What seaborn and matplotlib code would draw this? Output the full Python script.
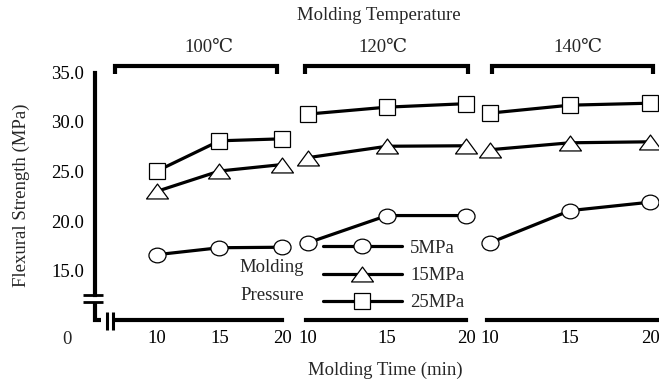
import numpy as np
import pandas as pd
import matplotlib
matplotlib.use("Agg")
import matplotlib.pyplot as plt
from matplotlib.lines import Line2D
from matplotlib.path import Path
import seaborn as sns

# ---------------- data ----------------
times = [10, 15, 20]
temps = ["100℃", "120℃", "140℃"]
pressures = ["5MPa", "15MPa", "25MPa"]
t100_5 = [16.6, 17.3, 17.35]
t100_15 = [23.0, 25.05, 25.7]
t100_25 = [25.05, 28.1, 28.3]
t120_5 = [17.8, 20.55, 20.55]
t120_15 = [26.4, 27.55, 27.6]
t120_25 = [30.8, 31.5, 31.85]
t140_5 = [17.8, 21.05, 21.9]
t140_15 = [27.2, 27.9, 28.0]
t140_25 = [30.9, 31.7, 31.9]
y_ticks = [15, 20, 25, 30, 35]
y_ticklabels = ["15.0", "20.0", "25.0", "30.0", "35.0"]
x_ticks = [10, 15, 20]

panel_values = {
    "100℃": {"5MPa": t100_5, "15MPa": t100_15, "25MPa": t100_25},
    "120℃": {"5MPa": t120_5, "15MPa": t120_15, "25MPa": t120_25},
    "140℃": {"5MPa": t140_5, "15MPa": t140_15, "25MPa": t140_25},
}
rows = []
for temp in temps:
    for p in pressures:
        for t, v in zip(times, panel_values[temp][p]):
            rows.append({"temp": temp, "pressure": p, "time": t, "strength": v})
df = pd.DataFrame(rows)

# ---------------- style ----------------
sns.set_style("white")
plt.rcParams["font.family"] = ["Liberation Serif", "DejaVu Serif"]
FS = 13.5

W, H = 659, 383
fig = plt.figure(figsize=(W / 100, H / 100), dpi=100)


def fx(x):
    return x / W


def fy(y):
    return 1 - y / H


def fline(xs, ys, lw=3.0):
    fig.add_artist(Line2D([fx(x) for x in xs], [fy(y) for y in ys],
                          transform=fig.transFigure, color="black", lw=lw,
                          solid_capstyle="butt", solid_joinstyle="miter"))


circ = Path.unit_circle()
ellipse_marker = Path(circ.vertices * np.array([1.0, 0.86]), circ.codes)
tri_marker = Path([(-1, -0.68), (1, -0.68), (0, 0.68), (-1, -0.68)],
                  [Path.MOVETO, Path.LINETO, Path.LINETO, Path.CLOSEPOLY])
marker_style = {
    "5MPa": dict(marker=ellipse_marker, markersize=12.3),
    "15MPa": dict(marker=tri_marker, markersize=15.8),
    "25MPa": dict(marker="s", markersize=11.5),
}

y_top_px, y_bot_px = 72.5, 320.0
ylim = (10.0, 35.0)

# panels: (left px, right px, px at time 10, px per minute)
panel_geom = [
    (95, 290, 157, 12.5),
    (306, 475, 308, 15.8),
    (487, 659, 490, 16.0),
]

axes = []
for i, (temp, (lpx, rpx, x10, ppu)) in enumerate(zip(temps, panel_geom)):
    ax = fig.add_axes([fx(lpx), fy(y_bot_px), (rpx - lpx) / W, (y_bot_px - y_top_px) / H])
    ax.patch.set_alpha(0)
    sub = df[df["temp"] == temp]
    for p in pressures:
        d = sub[sub["pressure"] == p]
        sns.lineplot(data=d, x="time", y="strength", ax=ax, color="black",
                     linewidth=2.3, errorbar=None, legend=False,
                     markerfacecolor="white", markeredgecolor="black",
                     markeredgewidth=0.9, clip_on=False, **marker_style[p])
    ax.set_xlim(10 - (x10 - lpx) / ppu, 10 + (rpx - x10) / ppu)
    ax.set_ylim(*ylim)
    ax.set_xlabel("")
    ax.set_ylabel("")
    for s in ["top", "right"]:
        ax.spines[s].set_visible(False)
    ax.spines["bottom"].set_linewidth(3)
    ax.spines["bottom"].set_color("black")
    ax.set_xticks(x_ticks)
    ax.set_xticklabels([str(t) for t in x_ticks], fontsize=FS)
    ax.tick_params(axis="x", direction="in", length=6, width=3, pad=7, colors="black")
    ax.tick_params(axis="x", labelcolor="black")
    if i == 0:
        ax.spines["left"].set_linewidth(3)
        ax.spines["left"].set_color("black")
        ax.spines["left"].set_bounds(12.53, 35)
        ax.set_yticks(y_ticks)
        ax.set_yticklabels(y_ticklabels, fontsize=FS)
        ax.tick_params(axis="y", direction="in", length=6, width=3, pad=8, colors="black")
        ax.spines["bottom"].set_bounds(10 - (x10 - 115) / ppu, 20)
    else:
        ax.spines["left"].set_visible(False)
        ax.set_yticks([])
        if i == 1:
            ax.spines["bottom"].set_bounds(ax.get_xlim()[0], 20)
    axes.append(ax)

# axis breaks and corner
fline([95, 95, 101], [301.5, 320, 320], lw=3)
fline([83, 103], [295, 295], lw=2)
fline([83, 103], [302, 302], lw=2)
fline([107, 107], [312, 330], lw=2.2)
fline([113, 113], [312, 330], lw=2.2)

# temperature brackets
for (l, r), temp, cx in zip([(115, 277), (305, 468), (492, 653)], temps, [209, 383, 578]):
    fline([l, l, r, r], [74, 66, 66, 74], lw=3)
    fig.text(fx(cx), fy(47), temp, ha="center", va="center", fontsize=FS)

fig.text(fx(379), fy(16), "Molding Temperature", ha="center", va="center", fontsize=FS)
fig.text(fx(385), fy(370), "Molding Time (min)", ha="center", va="center", fontsize=FS)
fig.text(fx(21), fy(195), "Flexural Strength (MPa)", ha="center", va="center",
         rotation=90, fontsize=FS)
fig.text(fx(67), fy(340), "0", ha="center", va="center", fontsize=FS)

# legend
handles = [Line2D([], [], color="black", lw=2.3, markerfacecolor="white",
                  markeredgecolor="black", markeredgewidth=0.9, **marker_style[p])
           for p in pressures]
fig.legend(handles, pressures, loc="center left", bbox_to_anchor=(fx(323), fy(275.5)),
           frameon=False, fontsize=FS, handlelength=79 / 1.389 / FS,
           handletextpad=8 / 1.389 / FS, borderpad=0, borderaxespad=0,
           labelspacing=0.53)
fig.text(fx(272), fy(268), "Molding", ha="center", va="center", fontsize=FS)
fig.text(fx(272), fy(295), "Pressure", ha="center", va="center", fontsize=FS)

fig.savefig("out.png", dpi=100)
